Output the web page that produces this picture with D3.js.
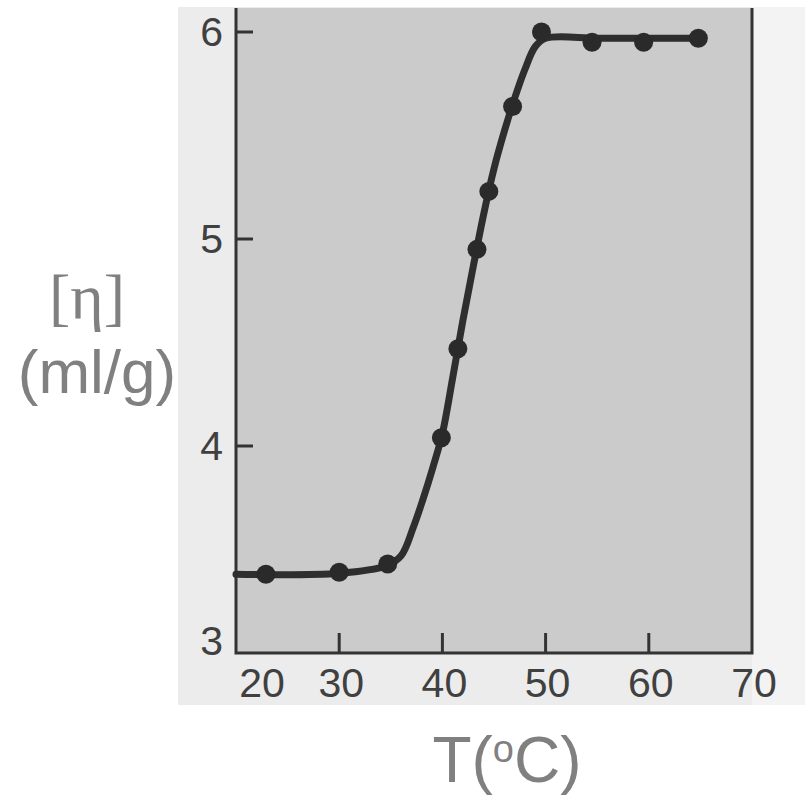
<!DOCTYPE html>
<html>
<head>
<meta charset="utf-8">
<script src="https://cdnjs.cloudflare.com/ajax/libs/d3/7.8.5/d3.min.js"></script>
<style>
  body { margin: 0; background: #fff; }
  svg { display: block; }
</style>
</head>
<body>
<svg id="chart" width="805" height="797"></svg>
<script>
// measured points
const temps = [22.9, 30, 34.7, 39.9, 41.5, 43.35, 44.5, 46.8, 49.6, 54.5, 59.5, 64.8];
const eta   = [3.38, 3.39, 3.43, 4.04, 4.47, 4.95, 5.23, 5.64, 6.00, 5.95, 5.95, 5.97];

// hand-drawn fitted curve
const curveT   = [20, 30, 34.5, 36, 37.2, 38.1, 39.1, 40, 41, 42, 43, 44, 45, 46, 47, 48, 49, 50, 55, 60, 65];
const curveEta = [3.38, 3.385, 3.42, 3.47, 3.61, 3.74, 3.90, 4.06, 4.33, 4.61, 4.87, 5.12, 5.34, 5.52, 5.68, 5.82, 5.93, 5.97, 5.97, 5.97, 5.97];

const xTicks = [30, 40, 50, 60];
const yTicks = [4, 5, 6];
const xLabels = [20, 30, 40, 50, 60, 70];
const yLabels = [3, 4, 5, 6];

const svg = d3.select("#chart");
const plotL = 236, plotR = 752, plotT = 8, plotB = 653;

const x = d3.scaleLinear().domain([20, 70]).range([plotL, plotR]);
const y = d3.scaleLinear().domain([3, 6]).range([plotB, 32]);

// scanned paper background
svg.append("rect").attr("x", 178).attr("y", 7).attr("width", 627).attr("height", 698)
  .attr("fill", "#ececec");
svg.append("rect").attr("x", plotR).attr("y", 7).attr("width", 805 - plotR).attr("height", 698)
  .attr("fill", "#f3f3f3");
svg.append("rect").attr("x", plotL).attr("y", plotT).attr("width", plotR - plotL).attr("height", plotB - plotT)
  .attr("fill", "#cbcbcb");

const ink = "#333";

// frame: left, bottom, right
svg.append("path")
  .attr("d", `M${plotL},${plotT}V${plotB}H${plotR}V${plotT}`)
  .attr("fill", "none").attr("stroke", ink).attr("stroke-width", 3);

// inward ticks
svg.selectAll(".xt").data(xTicks).join("line")
  .attr("x1", d => x(d)).attr("x2", d => x(d))
  .attr("y1", plotB).attr("y2", plotB - 20)
  .attr("stroke", ink).attr("stroke-width", 3);
svg.selectAll(".yt").data(yTicks).join("line")
  .attr("x1", plotL).attr("x2", plotL + 17)
  .attr("y1", d => y(d)).attr("y2", d => y(d))
  .attr("stroke", ink).attr("stroke-width", 3);

// tick labels
const tickFont = "'Liberation Sans', Arial, sans-serif";
svg.selectAll(".xl").data(xLabels).join("text")
  .attr("x", d => d === 20 ? x(d) + 26 : x(d) + 2)
  .attr("y", 697)
  .attr("text-anchor", "middle")
  .attr("font-family", tickFont).attr("font-size", 41)
  .attr("fill", "#404040")
  .text(d => d);
svg.selectAll(".yl").data(yLabels).join("text")
  .attr("x", 223)
  .attr("y", d => d === 3 ? plotB + 2 : y(d) + 14)
  .attr("text-anchor", "end")
  .attr("font-family", tickFont).attr("font-size", 41)
  .attr("fill", "#404040")
  .text(d => d);

// fitted curve
const line = d3.line()
  .x((d, i) => x(curveT[i]))
  .y(d => y(d))
  .curve(d3.curveCatmullRom.alpha(0.5));
svg.append("path").datum(curveEta)
  .attr("d", line)
  .attr("fill", "none").attr("stroke", "#2e2e2e").attr("stroke-width", 7)
  .attr("stroke-linecap", "round").attr("stroke-linejoin", "round");

// data points
svg.selectAll(".pt").data(eta).join("circle")
  .attr("cx", (d, i) => x(temps[i]))
  .attr("cy", d => y(d))
  .attr("r", 9.5)
  .attr("fill", "#2a2a2a");

// axis titles
const titleFont = "'Liberation Sans', Arial, sans-serif";
svg.append("text").attr("x", 87).attr("y", 318)
  .attr("text-anchor", "middle")
  .attr("font-family", "'Liberation Serif', 'Times New Roman', serif").attr("font-size", 64)
  .attr("fill", "#808080")
  .text("[η]");
svg.append("text").attr("x", 97).attr("y", 393)
  .attr("text-anchor", "middle")
  .attr("font-family", titleFont).attr("font-size", 62)
  .attr("fill", "#808080")
  .text("(ml/g)");

const xt = svg.append("text").attr("x", 507).attr("y", 782)
  .attr("text-anchor", "middle")
  .attr("font-family", titleFont).attr("font-size", 64)
  .attr("fill", "#808080");
xt.append("tspan").text("T(");
xt.append("tspan").attr("font-size", 38).attr("dy", -20).text("o");
xt.append("tspan").attr("dy", 20).text("C)");
</script>
</body>
</html>
